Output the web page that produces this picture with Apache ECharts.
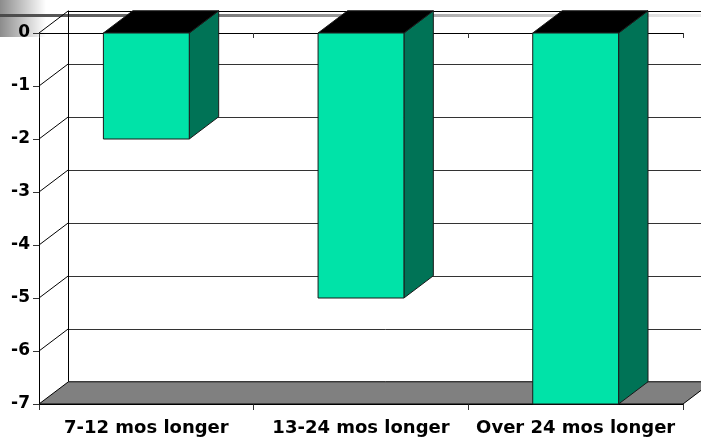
<!DOCTYPE html>
<html>
<head>
<meta charset="utf-8">
<script src="https://cdn.jsdelivr.net/npm/echarts@6/dist/echarts.min.js"></script>
<style>
  html, body { margin: 0; padding: 0; background: #fff; }
  #chart { width: 701px; height: 440px; }
</style>
</head>
<body>
<div id="chart"></div>
<script>
// Categories and values
const categories = ['7-12 mos longer', '13-24 mos longer', 'Over 24 mos longer'];
const values = [-2.0, -5.0, -7.0];
const yTicks = [0, -1, -2, -3, -4, -5, -6, -7];

// 3D look: depth as a fraction of the category band, and its vertical rise
const DEPTH = 0.137;
const SLOPE = 0.756;
const FONT = 'DejaVu Sans';

const crisp = v => Math.round(v) + 0.5;

function depthOf(api) {
  const band = api.size([1, 0])[0];
  return [band * DEPTH, -band * DEPTH * SLOPE];
}

// Back wall, side wall grid lines and floor
function renderFrame(params, api) {
  const cs = params.coordSys;
  const [dx, dy] = depthOf(api);
  const x0 = cs.x, x1 = cs.x + cs.width;
  const yMin = yTicks[yTicks.length - 1];
  const yTop = api.coord([0, yTicks[0]])[1];
  const yBot = api.coord([0, yMin])[1];
  const children = [];
  children.push({
    type: 'polygon',
    shape: { points: [[x0, yBot], [x1, yBot], [x1 + dx, yBot + dy], [x0 + dx, yBot + dy]] },
    style: { fill: '#808080', stroke: '#000', lineWidth: 1 }
  });
  yTicks.forEach(v => {
    if (v === yMin) return;
    const y = api.coord([0, v])[1];
    children.push({
      type: 'line',
      shape: { x1: crisp(x0 + dx), y1: crisp(y + dy), x2: x1 + dx + 60, y2: crisp(y + dy) },
      style: { stroke: v === 0 ? '#000' : '#333', lineWidth: 1 }
    });
    children.push({
      type: 'line',
      shape: { x1: x0, y1: y, x2: x0 + dx, y2: y + dy },
      style: { stroke: '#000', lineWidth: 1 }
    });
  });
  children.push({
    type: 'line',
    shape: { x1: crisp(x0 + dx), y1: yTop + dy, x2: crisp(x0 + dx), y2: yBot + dy },
    style: { stroke: '#000', lineWidth: 1 }
  });
  return { type: 'group', children };
}

// 3D bars: front face, top face, side face
function renderBar(params, api) {
  const idx = api.value(0), v = api.value(1);
  const [dx, dy] = depthOf(api);
  const band = api.size([1, 0])[0];
  const w = band * 0.4;
  const c = api.coord([idx, 0]);
  const b = api.coord([idx, v]);
  const xl = c[0] - w / 2, xr = c[0] + w / 2;
  const yt = Math.min(c[1], b[1]), yb = Math.max(c[1], b[1]);
  const edge = { stroke: '#1a1a1a', lineWidth: 1 };
  return {
    type: 'group',
    children: [
      {
        type: 'polygon',
        shape: { points: [[xr, yt], [xr + dx, yt + dy], [xr + dx, yb + dy], [xr, yb]] },
        style: Object.assign({ fill: '#007356' }, edge)
      },
      {
        type: 'polygon',
        shape: { points: [[xl, yt], [xr, yt], [xr + dx, yt + dy], [xl + dx, yt + dy]] },
        style: Object.assign({ fill: '#000' }, edge)
      },
      {
        type: 'rect',
        shape: { x: xl, y: yt, width: w, height: yb - yt },
        style: Object.assign({ fill: '#00e3a8' }, edge)
      }
    ]
  };
}

const chart = echarts.init(document.getElementById('chart'), null, { renderer: 'canvas' });
chart.setOption({
  animation: false,
  backgroundColor: '#fff',
  graphic: [
    {
      type: 'rect', z: 0,
      shape: { x: 0, y: 0, width: 46, height: 37 },
      style: { fill: { type: 'linear', x: 0, y: 0, x2: 1, y2: 0,
        colorStops: [{ offset: 0, color: '#8c8c8c' }, { offset: 1, color: '#ffffff' }] } }
    },
    {
      type: 'rect', z: 0,
      shape: { x: 0, y: 14, width: 701, height: 3 },
      style: { fill: { type: 'linear', x: 0, y: 0, x2: 1, y2: 0,
        colorStops: [{ offset: 0, color: '#4a4a4a' }, { offset: 1, color: '#ececec' }] } }
    }
  ],
  grid: { left: 39, right: 18, top: 33, bottom: 36 },
  xAxis: [
    {
      type: 'category', data: categories, position: 'bottom',
      axisLine: { onZero: false, lineStyle: { color: '#000', width: 1 } },
      axisTick: { show: true, length: 6, lineStyle: { color: '#333' } },
      axisLabel: { interval: 0, color: '#000', fontFamily: FONT, fontWeight: 'bold', fontSize: 18, margin: 15 },
      splitLine: { show: false }
    },
    {
      type: 'category', data: categories, position: 'top',
      axisLine: { onZero: false, lineStyle: { color: '#000', width: 1 } },
      axisTick: { show: true, inside: true, length: 5, lineStyle: { color: '#333' } },
      axisLabel: { show: false },
      splitLine: { show: false }
    }
  ],
  yAxis: {
    type: 'value', min: -7, max: 0, interval: 1,
    axisLine: { show: true, lineStyle: { color: '#000', width: 1 } },
    axisTick: { show: true, length: 6, lineStyle: { color: '#333' } },
    axisLabel: { color: '#000', fontFamily: FONT, fontWeight: 'bold', fontSize: 17, margin: 9 },
    splitLine: { show: false }
  },
  series: [
    {
      type: 'custom', z: 1, silent: true,
      renderItem: renderFrame,
      data: [[0, 0]]
    },
    {
      type: 'custom', z: 3,
      renderItem: renderBar,
      encode: { x: 0, y: 1 },
      data: values.map((v, i) => [i, v])
    }
  ]
});
</script>
</body>
</html>
